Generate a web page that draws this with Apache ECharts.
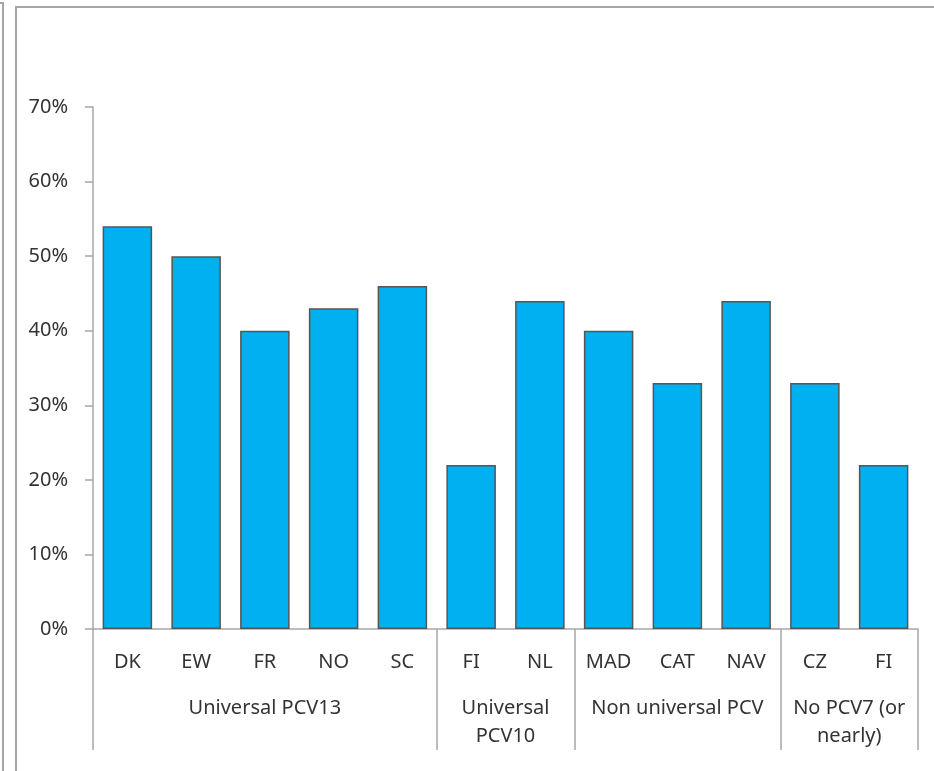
<!DOCTYPE html>
<html>
<head>
<meta charset="utf-8">
<script src="https://cdn.jsdelivr.net/npm/echarts@6/dist/echarts.min.js"></script>
<style>
  html, body { margin: 0; padding: 0; background: #fff; }
  #main { width: 934px; height: 771px; }
</style>
</head>
<body>
<div id="main"></div>
<script>
// 数据
const categories = ['DK', 'EW', 'FR', 'NO', 'SC', 'FI', 'NL', 'MAD', 'CAT', 'NAV', 'CZ', 'FI'];
const values = [0.54, 0.50, 0.40, 0.43, 0.46, 0.22, 0.44, 0.40, 0.33, 0.44, 0.33, 0.22];
const groupNames = ['Universal PCV13', 'Universal\nPCV10', 'Non universal PCV', 'No PCV7 (or\nnearly)'];
const groupSizes = [5, 2, 3, 2];

// 分组边界和中心
const groupEdges = [0];
const groupCenters = [];
groupSizes.forEach(function (n, i) {
  const start = groupEdges[i];
  groupEdges.push(start + n);
  groupCenters.push(start + n / 2);
});

const gray = '#a6a6a6';
const textColor = '#333';
const font = '"Noto Sans", "Open Sans", sans-serif';

const option = {
  animation: false,
  grid: { left: 93, right: 16, top: 107, bottom: 142, containLabel: false },
  xAxis: [
    {
      type: 'category',
      data: categories,
      axisLine: { lineStyle: { color: gray, width: 1.5 } },
      axisTick: { interval: 0, length: 47, lineStyle: { color: gray, width: 1.5 } },
      axisLabel: { interval: 0, margin: 21, lineHeight: 24, fontSize: 20, color: textColor, fontFamily: font }
    },
    {
      type: 'value',
      position: 'bottom',
      min: 0,
      max: categories.length,
      splitLine: { show: false },
      axisLine: { show: false },
      axisTick: { show: true, length: 121, customValues: groupEdges, lineStyle: { color: gray, width: 1.5 } },
      axisLabel: {
        customValues: groupCenters,
        margin: 65,
        lineHeight: 28,
        fontSize: 20,
        color: textColor,
        fontFamily: font,
        formatter: function (v) {
          const idx = groupCenters.indexOf(v);
          return idx >= 0 ? groupNames[idx] : '';
        }
      }
    }
  ],
  yAxis: {
    type: 'value',
    min: 0,
    max: 0.7,
    interval: 0.1,
    splitLine: { show: false },
    axisLine: { show: true, lineStyle: { color: gray, width: 1.5 } },
    axisTick: { show: true, length: 8, lineStyle: { color: gray, width: 1.5 } },
    axisLabel: {
      margin: 25,
      fontSize: 20,
      color: textColor,
      fontFamily: font,
      formatter: function (v) { return Math.round(v * 100) + '%'; }
    }
  },
  series: [
    {
      type: 'bar',
      data: values,
      barCategoryGap: '28%',
      itemStyle: { color: '#00b0f0', borderColor: '#555', borderWidth: 1.5 }
    }
  ],
  graphic: [
    {
      type: 'polyline',
      shape: { points: [[0, 3], [3, 3], [3, 771]] },
      style: { stroke: gray, lineWidth: 2, fill: null }
    },
    {
      type: 'polyline',
      shape: { points: [[16, 771], [16, 7], [934, 7]] },
      style: { stroke: gray, lineWidth: 2, fill: null }
    }
  ]
};

const myChart = echarts.init(document.getElementById('main'));
myChart.setOption(option);
</script>
</body>
</html>
